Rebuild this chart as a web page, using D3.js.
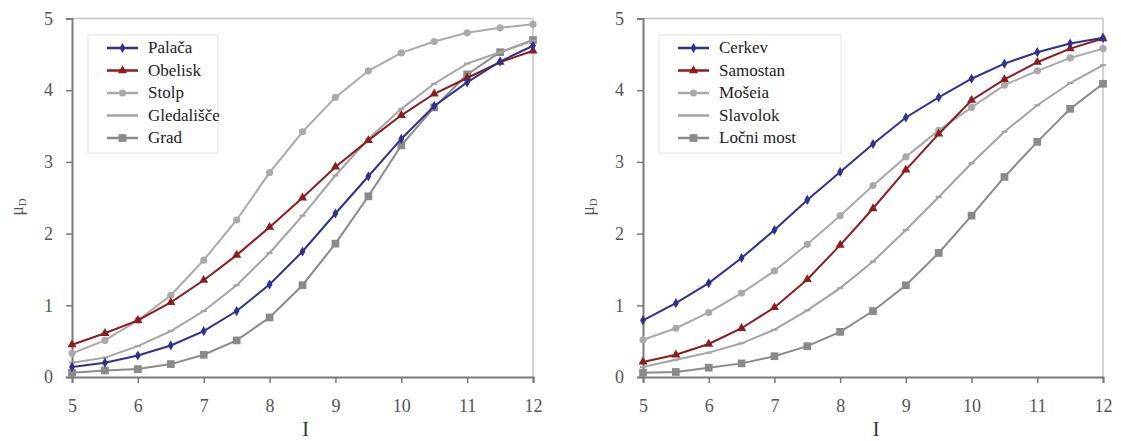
<!DOCTYPE html>
<html>
<head>
<meta charset="utf-8">
<script src="https://cdn.jsdelivr.net/npm/d3@7"></script>
<style>
  body { margin: 0; background: #fff; }
  svg text { font-family: "Liberation Serif", "Times New Roman", "DejaVu Serif", serif !important; }
</style>
</head>
<body>
<svg id="chart" width="1121" height="441"></svg>
<script>
// x values shared by both panels
const intensity = [5, 5.5, 6, 6.5, 7, 7.5, 8, 8.5, 9, 9.5, 10, 10.5, 11, 11.5, 12];
const xTicks = [5, 6, 7, 8, 9, 10, 11, 12];
const yTicks = [0, 1, 2, 3, 4, 5];

// left panel
const palaca     = [0.14, 0.20, 0.30, 0.44, 0.64, 0.92, 1.29, 1.75, 2.28, 2.80, 3.32, 3.78, 4.11, 4.40, 4.62];
const obelisk    = [0.45, 0.61, 0.79, 1.04, 1.35, 1.70, 2.09, 2.50, 2.93, 3.30, 3.65, 3.95, 4.17, 4.39, 4.55];
const stolp      = [0.33, 0.51, 0.79, 1.14, 1.63, 2.19, 2.85, 3.42, 3.90, 4.27, 4.52, 4.68, 4.80, 4.87, 4.92];
const gledalisce = [0.20, 0.27, 0.43, 0.64, 0.92, 1.28, 1.73, 2.25, 2.81, 3.32, 3.74, 4.09, 4.37, 4.53, 4.69];
const grad       = [0.06, 0.09, 0.11, 0.18, 0.31, 0.51, 0.83, 1.28, 1.86, 2.52, 3.23, 3.76, 4.22, 4.53, 4.70];

// right panel
const cerkev     = [0.79, 1.03, 1.31, 1.66, 2.05, 2.47, 2.86, 3.25, 3.62, 3.90, 4.16, 4.37, 4.53, 4.65, 4.73];
const samostan   = [0.21, 0.31, 0.46, 0.68, 0.97, 1.36, 1.84, 2.35, 2.89, 3.39, 3.86, 4.15, 4.39, 4.58, 4.72];
const moseia     = [0.52, 0.68, 0.90, 1.17, 1.48, 1.85, 2.25, 2.67, 3.07, 3.44, 3.76, 4.07, 4.27, 4.45, 4.58];
const slavolok   = [0.14, 0.24, 0.34, 0.47, 0.66, 0.93, 1.24, 1.61, 2.05, 2.51, 2.98, 3.42, 3.79, 4.10, 4.35];
const locniMost  = [0.06, 0.07, 0.13, 0.19, 0.29, 0.43, 0.63, 0.92, 1.28, 1.73, 2.25, 2.79, 3.28, 3.74, 4.09];

const leftNames  = ["Palača", "Obelisk", "Stolp", "Gledališče", "Grad"];
const rightNames = ["Cerkev", "Samostan", "Mošeia", "Slavolok", "Ločni most"];

// one style per series slot, same in both panels
const styles = [
  { color: "#2e3192", marker: "diamond", size: 30 },
  { color: "#8e1c1c", marker: "triangle", size: 36 },
  { color: "#a9a9a9", marker: "circle", size: 40 },
  { color: "#a3a3a3", marker: "dash", size: 0 },
  { color: "#8a8a8a", marker: "square", size: 60 }
];

const serif = "Liberation Serif, Times New Roman, DejaVu Serif, serif";
const svg = d3.select("#chart").attr("font-family", serif);

function symbolFor(name) {
  if (name === "diamond") return d3.symbolDiamond;
  if (name === "triangle") return d3.symbolTriangle;
  if (name === "circle") return d3.symbolCircle;
  return d3.symbolSquare;
}

function drawPanel(opts) {
  const g = svg.append("g");
  const x = d3.scaleLinear().domain([5, 12]).range([opts.left, opts.right]);
  const y = d3.scaleLinear().domain([0, 5]).range([377, 18.5]);

  // plot border (top / right)
  g.append("path")
    .attr("d", `M${opts.left},${y(5)}H${opts.right}V${y(0)}`)
    .attr("fill", "none")
    .attr("stroke", "#c4c4c4")
    .attr("stroke-width", 1.5);

  // y axis
  const yAxis = g.append("g")
    .attr("transform", `translate(${opts.left},0)`)
    .call(d3.axisLeft(y).tickValues(yTicks).tickSize(6).tickPadding(13).tickFormat(d3.format("d")));
  // x axis
  const xAxis = g.append("g")
    .attr("transform", `translate(0,${y(0)})`)
    .call(d3.axisBottom(x).tickValues(xTicks).tickSize(6).tickPadding(16).tickFormat(d3.format("d")));

  [yAxis, xAxis].forEach(a => {
    a.attr("font-family", serif);
    a.select(".domain").attr("stroke", "#7a7a7a").attr("stroke-width", 2);
    a.selectAll(".tick line").attr("stroke", "#7a7a7a").attr("stroke-width", 1.5);
    a.selectAll(".tick text")
      .attr("fill", "#555")
      .attr("font-size", 18);
  });

  // axis titles
  g.append("text")
    .attr("x", (opts.left + opts.right) / 2 + 3)
    .attr("y", 436)
    .attr("text-anchor", "middle")
    .attr("font-size", 20)
    .attr("fill", "#333")
    .text("I");

  const yl = g.append("text")
    .attr("transform", `translate(${opts.left - 49},207) rotate(-90)`)
    .attr("text-anchor", "middle")
    .attr("font-size", 18)
    .attr("fill", "#555");
  yl.append("tspan").text("μ");
  yl.append("tspan").attr("font-size", 11).attr("dy", 3).text("D");

  const line = d3.line()
    .x((d, i) => x(intensity[i]))
    .y(d => y(d));

  // draw back to front so blue/red stay on top
  const order = [4, 3, 2, 1, 0];
  order.forEach(k => {
    const s = styles[k];
    const vals = opts.series[k];
    g.append("path")
      .datum(vals)
      .attr("d", line)
      .attr("fill", "none")
      .attr("stroke", s.color)
      .attr("stroke-width", 2);

    if (s.marker === "dash") {
      g.append("g").selectAll("line")
        .data(vals)
        .enter()
        .append("line")
        .attr("x1", (d, i) => x(intensity[i]) - 3)
        .attr("x2", (d, i) => x(intensity[i]) + 3)
        .attr("y1", d => y(d))
        .attr("y2", d => y(d))
        .attr("stroke", s.color)
        .attr("stroke-width", 2);
    } else {
      g.append("g").selectAll("path")
        .data(vals)
        .enter()
        .append("path")
        .attr("transform", (d, i) => `translate(${x(intensity[i])},${y(d)})`)
        .attr("d", d3.symbol().type(symbolFor(s.marker)).size(s.size))
        .attr("fill", s.color);
    }
  });

  // legend
  const lg = g.append("g");
  lg.append("rect")
    .attr("x", opts.legend.x)
    .attr("y", 35)
    .attr("width", opts.legend.w)
    .attr("height", 118)
    .attr("fill", "#fff")
    .attr("stroke", "#e2e2e2")
    .attr("stroke-width", 1);

  opts.names.forEach((name, k) => {
    const s = styles[k];
    const ly = 48 + k * 22.5;
    const lx = opts.legend.x + 19;
    lg.append("line")
      .attr("x1", lx).attr("x2", lx + 31)
      .attr("y1", ly).attr("y2", ly)
      .attr("stroke", s.color)
      .attr("stroke-width", 2.5);
    if (s.marker !== "dash") {
      lg.append("path")
        .attr("transform", `translate(${lx + 15.5},${ly})`)
        .attr("d", d3.symbol().type(symbolFor(s.marker)).size(s.size))
        .attr("fill", s.color);
    }
    lg.append("text")
      .attr("x", lx + 41)
      .attr("y", ly + 5)
      .attr("font-size", 17)
      .attr("fill", "#222")
      .text(name);
  });
}

drawPanel({
  left: 72, right: 533,
  series: [palaca, obelisk, stolp, gledalisce, grad],
  names: leftNames,
  legend: { x: 88, w: 130 }
});

drawPanel({
  left: 643, right: 1103,
  series: [cerkev, samostan, moseia, slavolok, locniMost],
  names: rightNames,
  legend: { x: 659, w: 182 }
});
</script>
</body>
</html>
